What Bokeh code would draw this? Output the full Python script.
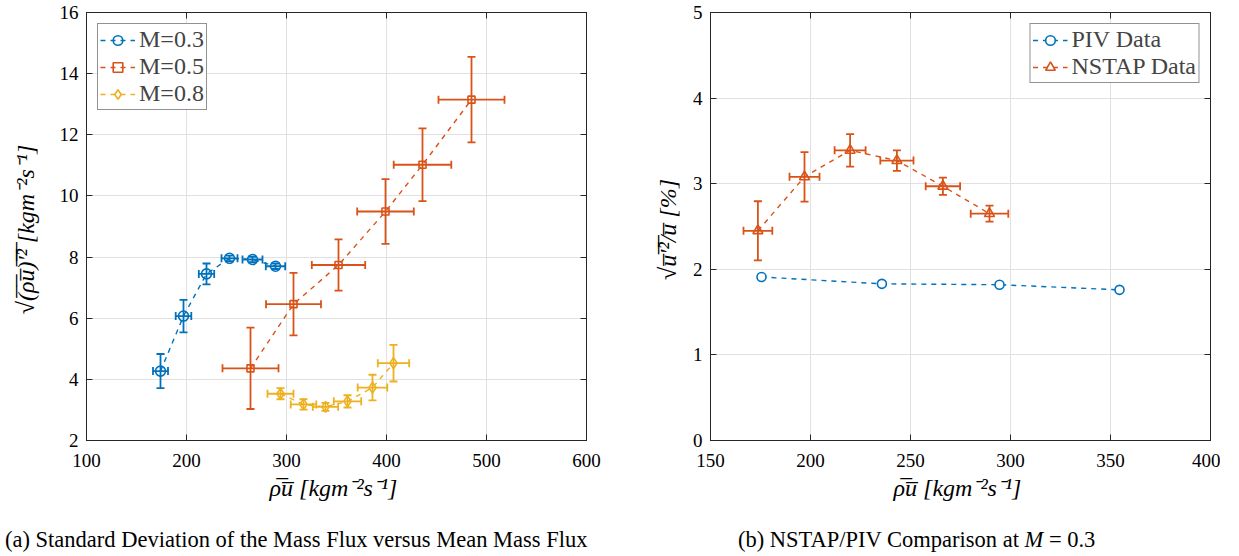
from bokeh.plotting import figure
from bokeh.models import (ColumnDataSource, Whisker, TeeHead, LinearAxis, Legend,
                          LegendItem, Div, Range1d, FixedTicker)
from bokeh.layouts import column, row
from bokeh.embed import file_html
from bokeh.resources import INLINE

# ---------------- data ----------------
# (a) standard deviation of mass flux vs mean mass flux
m03_x = [174, 197, 220, 243, 266, 289]
m03_y = [4.27, 6.07, 7.45, 7.96, 7.92, 7.70]
m03_xerr = [7.5, 7.8, 7.7, 8.0, 10.0, 9.7]
m03_yerr = [0.56, 0.53, 0.34, 0.09, 0.09, 0.09]

m05_x = [264, 307, 352, 399, 436, 485]
m05_y = [4.36, 6.46, 7.74, 9.49, 11.02, 13.15]
m05_xerr = [28.0, 27.5, 26.7, 28.3, 28.8, 33.0]
m05_yerr = [1.33, 1.02, 0.84, 1.06, 1.19, 1.40]

m08_x = [294, 317, 339, 361, 386, 407]
m08_y = [3.53, 3.18, 3.10, 3.28, 3.73, 4.53]
m08_xerr = [13.0, 12.8, 12.7, 13.7, 14.8, 15.7]
m08_yerr = [0.18, 0.17, 0.13, 0.20, 0.42, 0.60]

# (b) NSTAP / PIV comparison at M = 0.3
piv_x = [175.5, 235.7, 294.5, 354.5]
piv_y = [1.91, 1.83, 1.82, 1.76]

nstap_x = [173.7, 197.0, 219.8, 243.2, 266.2, 289.5]
nstap_y = [2.45, 3.08, 3.39, 3.27, 2.97, 2.65]
nstap_xerr = [7.2, 7.5, 7.75, 8.3, 8.6, 9.4]
nstap_yerr = [0.345, 0.29, 0.19, 0.12, 0.10, 0.094]

left_xticks = [100, 200, 300, 400, 500, 600]
left_yticks = [2, 4, 6, 8, 10, 12, 14, 16]
right_xticks = [150, 200, 250, 300, 350, 400]
right_yticks = [0, 1, 2, 3, 4, 5]

# ---------------- style ----------------
BLUE = "#0072BD"
ORANGE = "#D95319"
YELLOW = "#EDB120"
AXC = "#262626"
SERIF = "Liberation Serif"
TICK_FS = "19px"
LABEL_FS = "24px"
LEG_FS = "24px"

XLABEL = "\u03c1\u0305u\u0305  [kgm\u207b\u00b2s\u207b\u00b9]"


def make_fig(xr, yr, xt, yt, mbl, mbr, xlabel, ylabel, ystand):
    p = figure(frame_width=500, frame_height=428, x_range=Range1d(*xr), y_range=Range1d(*yr),
               output_backend="svg", toolbar_location=None,
               min_border_left=mbl, min_border_right=mbr, min_border_top=12, min_border_bottom=70)
    bx = p.below[0]
    ly = p.left[0]
    bx.ticker = FixedTicker(ticks=xt)
    ly.ticker = FixedTicker(ticks=yt)
    for ax in (bx, ly):
        ax.major_tick_in = 6
        ax.major_tick_out = 0
        ax.minor_tick_line_color = None
        ax.axis_line_color = AXC
        ax.major_tick_line_color = AXC
        ax.major_label_text_font = SERIF
        ax.major_label_text_font_size = TICK_FS
        ax.major_label_text_color = "black"
        ax.axis_label_text_font = SERIF
        ax.axis_label_text_font_size = LABEL_FS
        ax.axis_label_text_font_style = "italic"
        ax.axis_label_text_color = "black"
    bx.axis_label = xlabel
    ly.axis_label = ylabel
    bx.major_label_standoff = 13
    bx.axis_label_standoff = 5
    ly.major_label_standoff = 8
    ly.axis_label_standoff = ystand
    # box ticks on top / right (no labels)
    for loc, ticks in (("above", xt), ("right", yt)):
        ax = LinearAxis(ticker=FixedTicker(ticks=ticks), major_tick_in=6, major_tick_out=0,
                        minor_tick_line_color=None, major_label_text_font_size="1px",
                        major_label_text_color=None,
                        major_label_standoff=0, axis_line_color=AXC, major_tick_line_color=AXC)
        p.add_layout(ax, loc)
    p.outline_line_color = AXC
    p.outline_line_alpha = 1
    p.grid.grid_line_color = "#e1e1e1"
    p.grid.grid_line_width = 1
    p.background_fill_color = "white"
    p.border_fill_color = "white"
    return p


def errbars(p, xs, ys, xe, ye, color):
    src = ColumnDataSource(dict(x=xs, y=ys,
                                xl=[a - b for a, b in zip(xs, xe)], xu=[a + b for a, b in zip(xs, xe)],
                                yl=[a - b for a, b in zip(ys, ye)], yu=[a + b for a, b in zip(ys, ye)]))
    for dim, base, lo, up in (("height", "x", "yl", "yu"), ("width", "y", "xl", "xu")):
        w = Whisker(source=src, base=base, lower=lo, upper=up, dimension=dim,
                    line_color=color, line_width=1.8,
                    lower_head=TeeHead(size=8, line_color=color, line_width=1.8),
                    upper_head=TeeHead(size=8, line_color=color, line_width=1.8))
        p.add_layout(w)


def series(p, xs, ys, color, marker, size, fill=None):
    ln = p.line(xs, ys, line_color=color, line_width=1.4, line_dash="5 5")
    sc = p.scatter(xs, ys, marker=marker, size=size, line_color=color, line_width=1.6,
                   fill_color=fill)
    return ln, sc


def legend(items, loc):
    return Legend(items=items, location=loc, margin=11, padding=2, spacing=0,
                  glyph_width=35, glyph_height=24, label_height=24, label_standoff=4,
                  label_text_font=SERIF, label_text_font_size=LEG_FS,
                  border_line_color=AXC, border_line_width=1, background_fill_alpha=1)


# ---------------- (a) ----------------
p1 = make_fig((100, 600), (2, 16), left_xticks, left_yticks, 86, 40, XLABEL,
              "\u221a(\u0305\u03c1\u0305u\u0305)\u0305\u2032\u0305\u00b2\u0305  [kgm\u207b\u00b2s\u207b\u00b9]", 18)

errbars(p1, m03_x, m03_y, m03_xerr, m03_yerr, BLUE)
errbars(p1, m05_x, m05_y, m05_xerr, m05_yerr, ORANGE)
errbars(p1, m08_x, m08_y, m08_xerr, m08_yerr, YELLOW)
r03 = series(p1, m03_x, m03_y, BLUE, "circle", 10)
r05 = series(p1, m05_x, m05_y, ORANGE, "square", 7)
r08 = series(p1, m08_x, m08_y, YELLOW, "diamond", 11)

p1.add_layout(legend([LegendItem(label="M=0.3", renderers=list(r03)),
                      LegendItem(label="M=0.5", renderers=list(r05)),
                      LegendItem(label="M=0.8", renderers=list(r08))], "top_left"))

# ---------------- (b) ----------------
p2 = make_fig((150, 400), (0, 5), right_xticks, right_yticks, 84, 10, XLABEL,
              "\u221au\u0305\u2032\u0305\u00b2\u0305/u\u0305  [%]", 9)

errbars(p2, nstap_x, nstap_y, nstap_xerr, nstap_yerr, ORANGE)
rp = series(p2, piv_x, piv_y, BLUE, "circle", 9, fill="white")
rn = series(p2, nstap_x, nstap_y, ORANGE, "triangle", 10)

p2.add_layout(legend([LegendItem(label="PIV Data", renderers=list(rp)),
                      LegendItem(label="NSTAP Data", renderers=list(rn))], "top_right"))

# ---------------- captions ----------------
cap_style = {"font-family": SERIF, "font-size": "22.5px", "color": "black", "padding-top": "9px"}
d1 = Div(text="(a) Standard Deviation of the Mass Flux versus Mean Mass Flux",
         width=626, height=36, styles=cap_style)
d2 = Div(text="(b) NSTAP/PIV Comparison at <i>M</i> = 0.3",
         width=590, height=36, styles=dict(cap_style, **{"padding-left": "97px"}))

layout = column(row(p1, p2), row(d1, d2))
open("out.html", "w").write(file_html(layout, INLINE))
